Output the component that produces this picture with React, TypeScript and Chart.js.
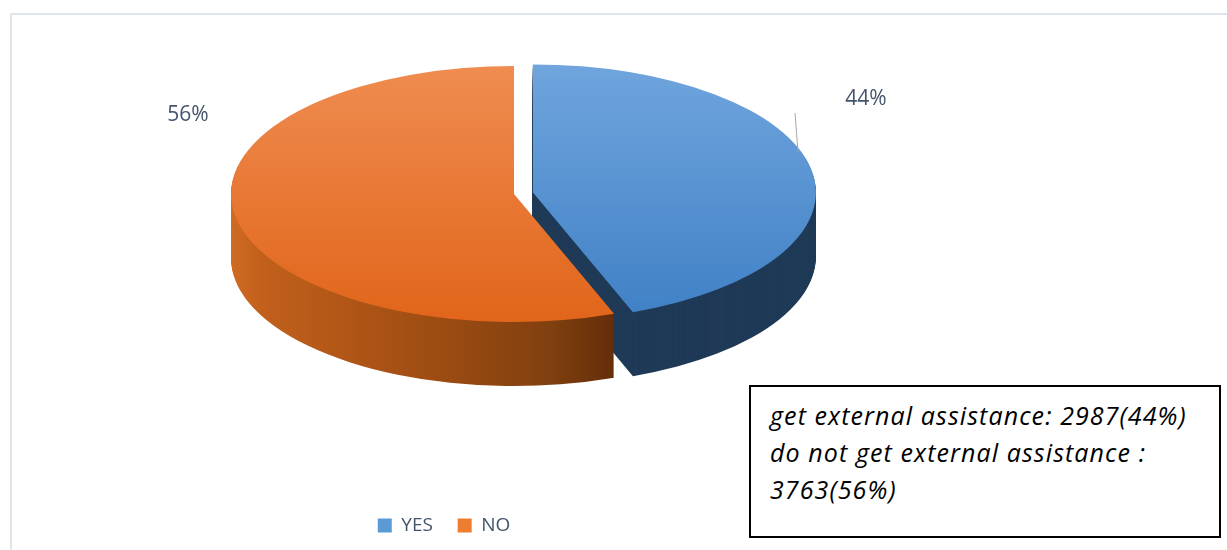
import React, { useEffect, useRef } from 'react';
import { Chart, registerables } from 'chart.js';

Chart.register(...registerables);

// ---- data ----
const categories = ['YES', 'NO'];
const counts = [2987, 3763];
const noteCaptions = ['get external assistance', 'do not get external assistance'];

// ---- styles ----
const topStart = ['#70a5dd', '#ef8c50'];
const topEnd = ['#3f80c5', '#e1651a'];
const legendColors = ['#5b9bd5', '#ed7d31'];
const blueSide = '#1f3a57';
const orangeSideStops: [number, string][] = [
  [0, '#d06b22'],
  [0.05, '#c2601c'],
  [0.21, '#b05616'],
  [0.39, '#9a4a12'],
  [0.56, '#81400f'],
  [0.7, '#5f2a08'],
  [1, '#5a2607'],
];
// explosion of each slice, as a fraction of the radius
const explodeFrac = [0.068, 0];
const labelColor = '#44546a';
// projection of the pie onto a tilted ellipse
const PIE = { cx: 514, cy: 194, rx: 283, ry: 128, depth: 64 };
// percentage label anchors (text placement)
const labelAnchors = [
  [866, 99],
  [188, 115],
];
const leader = [
  [795, 113],
  [798, 152],
];

const total = counts.reduce((a, b) => a + b, 0);
const percents = counts.map((v) => Math.round((v / total) * 100));

const pie3d = {
  id: 'pie3d',
  beforeDatasetsDraw(chart: any) {
    const meta = chart.getDatasetMeta(0);
    const arcs = meta.data;
    if (!arcs.length) return;
    const a0 = arcs[0];
    const R = a0.outerRadius;
    const sx = PIE.rx / R;
    const sy = PIE.ry / R;
    const ctx = chart.ctx;
    const shiftOf = (arc: any, i: number) => {
      const mid = (arc.startAngle + arc.endAngle) / 2;
      const e = explodeFrac[i] * R;
      return [Math.cos(mid) * e, Math.sin(mid) * e];
    };
    const apply = (dy: number, arc: any, i: number) => {
      const [ox, oy] = shiftOf(arc, i);
      ctx.translate(PIE.cx, PIE.cy + dy);
      ctx.scale(sx, sy);
      ctx.translate(-a0.x + ox, -a0.y + oy);
    };
    // side walls
    arcs.forEach((arc: any, i: number) => {
      const orig = arc.options;
      let fill: any = blueSide;
      if (i === 1) {
        const g = ctx.createLinearGradient(a0.x - R, 0, a0.x + R, 0);
        orangeSideStops.forEach(([p, c]) => g.addColorStop(p, c));
        fill = g;
      }
      arc.options = { ...orig, backgroundColor: fill, borderWidth: 0, offset: 0 };
      for (let d = PIE.depth; d >= 1; d -= 1) {
        ctx.save();
        apply(d, arc, i);
        arc.draw(ctx);
        ctx.restore();
      }
      arc.options = orig;
    });
    // top faces
    arcs.forEach((arc: any, i: number) => {
      const orig = arc.options;
      const g = ctx.createLinearGradient(0, a0.y - R, 0, a0.y + R);
      g.addColorStop(0, topStart[i]);
      g.addColorStop(1, topEnd[i]);
      arc.options = { ...orig, backgroundColor: g, borderWidth: 0, offset: 0 };
      ctx.save();
      apply(0, arc, i);
      arc.draw(ctx);
      ctx.restore();
      arc.options = orig;
    });
    return false;
  },
  afterDraw(chart: any) {
    const ctx = chart.ctx;
    ctx.save();
    ctx.strokeStyle = '#a6a6a6';
    ctx.lineWidth = 1;
    ctx.beginPath();
    ctx.moveTo(leader[0][0], leader[0][1]);
    ctx.lineTo(leader[1][0], leader[1][1]);
    ctx.stroke();
    ctx.fillStyle = labelColor;
    ctx.font = '21px "Open Sans"';
    ctx.textAlign = 'center';
    ctx.textBaseline = 'middle';
    percents.forEach((p, i) => {
      ctx.fillText(p + '%', labelAnchors[i][0], labelAnchors[i][1]);
    });
    ctx.restore();
  },
};

export default function App() {
  const ref = useRef<HTMLCanvasElement>(null);
  useEffect(() => {
    if (!ref.current) return;
    const chart = new Chart(ref.current, {
      type: 'pie',
      data: {
        labels: categories,
        datasets: [
          {
            data: counts,
            backgroundColor: legendColors,
            borderWidth: 0,
            clip: false,
          } as any,
        ],
      },
      options: {
        responsive: false,
        maintainAspectRatio: false,
        animation: false,
        events: [],
        layout: { padding: { left: 0, right: 339, top: 0, bottom: 5 } },
        plugins: {
          tooltip: { enabled: false },
          legend: {
            position: 'bottom',
            align: 'center',
            labels: {
              boxWidth: 14,
              boxHeight: 14,
              padding: 10,
              color: labelColor,
              font: { family: 'Open Sans', size: 19 },
              generateLabels: () =>
                categories.map((c, i) => ({
                  text: c + (i < categories.length - 1 ? '   ' : ''),
                  fillStyle: legendColors[i],
                  strokeStyle: legendColors[i],
                  lineWidth: 0,
                  hidden: false,
                  index: i,
                  fontColor: labelColor,
                })),
            },
          },
        },
      } as any,
      plugins: [pie3d],
    });
    return () => chart.destroy();
  }, []);

  return (
    <div
      style={{
        position: 'fixed',
        left: 0,
        top: 0,
        width: 1227,
        height: 550,
        overflow: 'hidden',
        background: '#ffffff',
      }}
    >
      <div
        style={{
          position: 'absolute',
          left: 10,
          top: 13,
          width: 1300,
          height: 700,
          border: '2px solid #e1e5ec',
        }}
      />
      <canvas
        ref={ref}
        width={1227}
        height={550}
        style={{ position: 'absolute', left: 0, top: 0 }}
      />
      <div
        style={{
          position: 'absolute',
          left: 749,
          top: 385,
          width: 472,
          height: 153,
          boxSizing: 'border-box',
          border: '2px solid #000',
          background: '#fff',
          padding: '10px 0 0 19px',
          fontFamily: '"Open Sans", sans-serif',
          fontStyle: 'italic',
          fontSize: 25,
          letterSpacing: '1.1px',
          lineHeight: '37px',
          color: '#000',
          whiteSpace: 'nowrap',
        }}
      >
        <div>{`${noteCaptions[0]}: ${counts[0]}(${percents[0]}%)`}</div>
        <div>{`${noteCaptions[1]} :`}</div>
        <div>{`${counts[1]}(${percents[1]}%)`}</div>
      </div>
    </div>
  );
}
